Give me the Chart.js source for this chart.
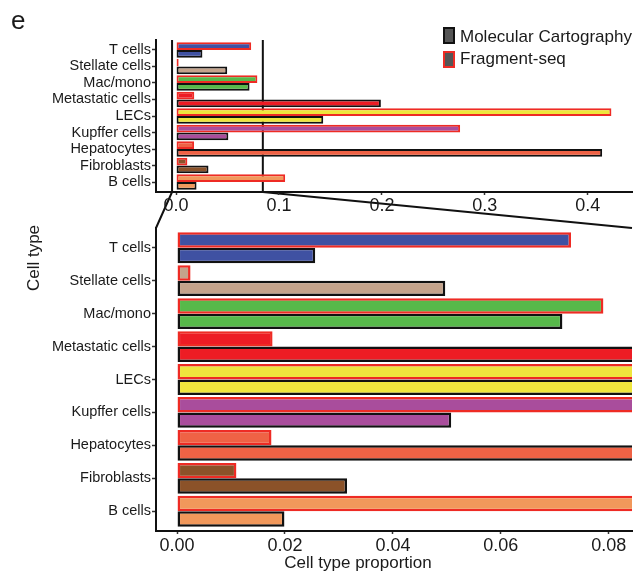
<!DOCTYPE html>
<html>
<head>
<meta charset="utf-8">
<script src="https://cdn.jsdelivr.net/npm/chart.js@4.4.1/dist/chart.umd.min.js"></script>
<style>
  body { margin: 0; background: #fff; }
  #wrap { position: relative; width: 636px; height: 574px; overflow: hidden; font-family: 'Liberation Sans', Arial, sans-serif; color: #1a1a1a; }
  canvas { position: absolute; left: 0; top: 0; }
  .txt { position: absolute; white-space: nowrap; line-height: 1; }
  .key { position: absolute; left: 443px; width: 12px; height: 17px; box-sizing: border-box; border: 2px solid #111; background: #555; }
</style>
</head>
<body>
<div id="wrap">
  <canvas id="zoomChart" width="636" height="574"></canvas>
  <canvas id="fullChart" width="636" height="574"></canvas>
  <div class="txt" style="left:11px;top:7px;font-size:26px">e</div>
  <div class="key" style="top:27px"></div>
  <div class="txt" style="left:460px;top:28px;font-size:17px">Molecular Cartography</div>
  <div class="key" style="top:51px;border-color:#ee2b24"></div>
  <div class="txt" style="left:460px;top:50px;font-size:17px">Fragment-seq</div>
  <div class="txt" style="left:33px;top:258px;font-size:17px;transform:translate(-50%,-50%) rotate(-90deg)">Cell type</div>
  <div class="txt" style="left:358px;top:562px;font-size:17px;transform:translate(-50%,-50%)">Cell type proportion</div>
</div>
<script>
const cellTypes = ['T cells', 'Stellate cells', 'Mac/mono', 'Metastatic cells', 'LECs', 'Kupffer cells', 'Hepatocytes', 'Fibroblasts', 'B cells']
const fragmentSeq = [0.073, 0.0025, 0.079, 0.0177, 0.423, 0.276, 0.0175, 0.011, 0.106]
const molecularCartography = [0.0256, 0.0497, 0.0714, 0.199, 0.143, 0.0508, 0.414, 0.0315, 0.0199]
const cellColors = ['#3f51a2', '#c4a38b', '#57b94a', '#ed1c24', '#efe63d', '#a94d9c', '#ef6245', '#8b5229', '#f1985b']

const fullTicks = [0, 0.1, 0.2, 0.3, 0.4]
const fullTickLabels = ['0.0', '0.1', '0.2', '0.3', '0.4']
const zoomTicks = [0, 0.02, 0.04, 0.06, 0.08]
const zoomTickLabels = ['0.00', '0.02', '0.04', '0.06', '0.08']

// range shown in the lower (zoomed) panel
const zoomMin = -0.0039
const zoomMax = 0.0843

const fontFamily = "'Liberation Sans', Arial, sans-serif"
const ink = '#1a1a1a'

const toPoints = (values) => values.map((v, i) => ({ x: v, y: i }))

const makeDatasets = (borderWidth) => [
  {
    label: 'Fragment-seq',
    data: toPoints(fragmentSeq),
    backgroundColor: cellColors,
    borderColor: '#ee2b24',
    borderWidth: borderWidth,
    borderSkipped: false,
    categoryPercentage: 0.935,
    barPercentage: 1,
    clip: { left: 5, top: 5, right: 0, bottom: 5 },
  },
  {
    label: 'Molecular Cartography',
    data: toPoints(molecularCartography),
    backgroundColor: cellColors,
    borderColor: '#111',
    borderWidth: borderWidth,
    borderSkipped: false,
    categoryPercentage: 0.935,
    barPercentage: 1,
    clip: { left: 5, top: 5, right: 0, bottom: 5 },
  },
]

const axisGrid = (len) => ({
  offset: false,
  drawOnChartArea: false,
  drawTicks: true,
  tickLength: len,
  tickColor: '#333',
  tickWidth: 1.5,
})

const makeOptions = (cfg) => ({
  indexAxis: 'y',
  responsive: false,
  animation: false,
  events: [],
  layout: { padding: cfg.padding },
  plugins: { legend: { display: false }, tooltip: { enabled: false } },
  scales: {
    x: {
      type: 'linear',
      min: cfg.min,
      max: cfg.max,
      afterBuildTicks: (scale) => {
        scale.ticks = cfg.ticks.map((v) => ({ value: v }))
      },
      afterFit: (scale) => {
        scale.height = 30
      },
      ticks: {
        autoSkip: false,
        maxRotation: 0,
        padding: cfg.xPad,
        color: ink,
        font: { family: fontFamily, size: 18, lineHeight: 1 },
        callback: (v, i) => cfg.tickLabels[i],
      },
      grid: axisGrid(3),
      border: { display: true, color: '#111', width: 2 },
    },
    y: {
      type: 'linear',
      offset: false,
      reverse: true,
      min: -0.6,
      max: 8.6,
      afterBuildTicks: (scale) => {
        scale.ticks = cellTypes.map((c, i) => ({ value: i }))
      },
      afterFit: (scale) => {
        scale.width = 156
      },
      ticks: {
        autoSkip: false,
        padding: 1,
        color: ink,
        font: { family: fontFamily, size: 14.5, lineHeight: 1 },
        callback: (v) => cellTypes[v],
      },
      grid: axisGrid(4),
      border: { display: true, color: '#111', width: 2 },
    },
  },
})

const zoomGuides = {
  id: 'zoomGuides',
  beforeDatasetsDraw(chart) {
    const { ctx, chartArea, scales } = chart
    ctx.save()
    ctx.strokeStyle = '#111'
    ctx.lineWidth = 2
    ctx.beginPath()
    ;[zoomMin, zoomMax].forEach((v) => {
      const px = scales.x.getPixelForValue(v)
      ctx.moveTo(px, chartArea.top)
      ctx.lineTo(px, chartArea.bottom)
    })
    ctx.stroke()
    ctx.restore()
  },
}

const fullChart = new Chart(document.getElementById('fullChart'), {
  type: 'bar',
  data: { datasets: makeDatasets(2) },
  options: makeOptions({
    min: -0.0195,
    max: 0.443,
    ticks: fullTicks,
    tickLabels: fullTickLabels,
    xPad: 2,
    padding: { left: 0, top: 40, right: 4, bottom: 352 },
  }),
  plugins: [zoomGuides],
})

const zoomConnectors = {
  id: 'zoomConnectors',
  afterDraw(chart) {
    const { ctx, chartArea } = chart
    const fx = fullChart.scales.x
    const fy = fullChart.chartArea.bottom
    ctx.save()
    ctx.strokeStyle = '#111'
    ctx.lineWidth = 2
    ctx.beginPath()
    ctx.moveTo(fx.getPixelForValue(zoomMin), fy)
    ctx.lineTo(chartArea.left, chartArea.top)
    ctx.moveTo(fx.getPixelForValue(zoomMax), fy)
    ctx.lineTo(chartArea.right, chartArea.top)
    ctx.stroke()
    ctx.restore()
  },
}

const zoomChart = new Chart(document.getElementById('zoomChart'), {
  type: 'bar',
  data: { datasets: makeDatasets(2.5) },
  options: makeOptions({
    min: zoomMin,
    max: zoomMax,
    ticks: zoomTicks,
    tickLabels: zoomTickLabels,
    xPad: 3,
    padding: { left: 0, top: 228, right: 4, bottom: 13 },
  }),
  plugins: [zoomConnectors],
})
</script>
</body>
</html>
